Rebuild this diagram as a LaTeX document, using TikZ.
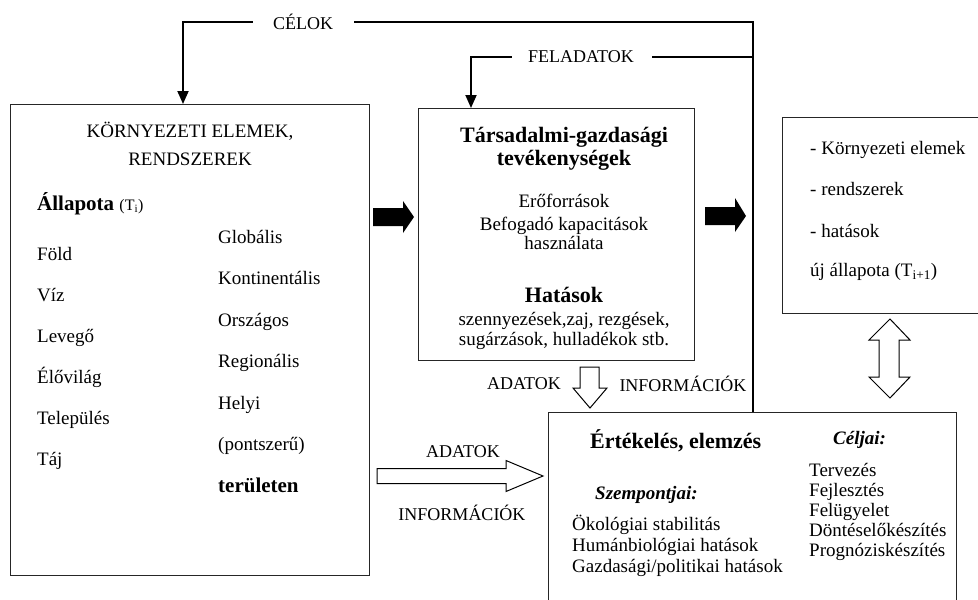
\documentclass[tikz,border=0pt]{standalone}
\usepackage{fontspec}
\setmainfont{Liberation Serif}
\usetikzlibrary{arrows.meta}
\begin{document}
\begin{tikzpicture}[x=1pt,y=-1pt,
  txt/.style={font=\fontsize{19}{21}\selectfont,inner sep=0pt},
  lbl/.style={font=\fontsize{18}{20}\selectfont,inner sep=0pt},
  ttl/.style={font=\fontsize{22}{24}\selectfont\bfseries,inner sep=0pt},
  bi/.style={font=\fontsize{19}{21}\selectfont\bfseries\itshape,inner sep=0pt},
  frame/.style={draw=black!85,line width=1.3pt,inner sep=0pt},
  conn/.style={draw=black,line width=1.8pt},
  arr/.style={-{Triangle[width=11pt,length=13pt]}},
  blockarrow/.style={fill=black},
  hollow/.style={draw=black,line width=1pt,fill=white,line join=miter}
]
\useasboundingbox[fill=white] (0,0) rectangle (978,600);

% boxes
\node[frame,anchor=north west,minimum width=359pt,minimum height=471pt] (env) at (10,104) {};
\node[frame,anchor=north west,minimum width=276pt,minimum height=252pt] (soc) at (418,108) {};
\node[frame,anchor=north west,minimum width=220pt,minimum height=196pt] (new) at (782,117) {};
\node[frame,anchor=north west,minimum width=408pt,minimum height=220pt] (eval) at (548,412) {};

% labels on connectors
\node[lbl] (celok) at (303,22) {CÉLOK};
\node[lbl] (fel) at (581,57) {FELADATOK};
\node[lbl] (ad1) at (524,384) {ADATOK};
\node[lbl] (inf1) at (683,384) {INFORMÁCIÓK};
\node[lbl] (ad2) at (463,452) {ADATOK};
\node[lbl] (inf2) at (462,513) {INFORMÁCIÓK};

% connectors
\coordinate (envIn) at (183,104);
\coordinate (socIn) at (471,108);
\coordinate (evalIn) at (753,412);
\coordinate (felJoin) at (753,57);
\draw[conn,arr] ([xshift=-20pt]celok.west) -| (envIn);
\draw[conn] ([xshift=21pt]celok.east) -| (evalIn);
\draw[conn,arr] ([xshift=-16pt]fel.west) -| (socIn);
\draw[conn] ([xshift=18pt]fel.east) -- (felJoin);

% black block arrows
\fill[blockarrow] (373,208) -- (403,208) -- (403,201) -- (414,217) -- (403,233) -- (403,226) -- (373,226) -- cycle;
\fill[blockarrow] (705,207) -- (735,207) -- (735,198) -- (746,216) -- (735,232) -- (735,225) -- (705,225) -- cycle;

% hollow arrows
\draw[hollow] (377,468.5) -- (506,468.5) -- (506,460.5) -- (543,476) -- (506,491.5) -- (506,483.5) -- (377,483.5) -- cycle;
\draw[hollow] (580,367) -- (599,367) -- (599,388) -- (607,388) -- (590,408) -- (573,388) -- (580,388) -- cycle;
\draw[hollow] (879,340) -- (869,340) -- (890,319) -- (910,340) -- (899,340) -- (899,377) -- (910,377) -- (890,398) -- (869,377) -- (879,377) -- cycle;

% left box text
\node[txt,anchor=mid] (e1) at (190,135) {KÖRNYEZETI ELEMEK,};
\node[txt,anchor=mid] (e2) at (190,163) {RENDSZEREK};
\node[inner sep=0pt,anchor=mid west] (e3) at (37,208) {\fontsize{21}{24}\selectfont\bfseries Állapota \mdseries\fontsize{16}{18}\selectfont(T\textsubscript{i})};
\node[txt,anchor=mid west] (l1) at (37,258) {Föld};
\node[txt,anchor=mid west] (l2) at (37,299) {Víz};
\node[txt,anchor=mid west] (l3) at (37,340) {Levegő};
\node[txt,anchor=mid west] (l4) at (37,381) {Élővilág};
\node[txt,anchor=mid west] (l5) at (37,422) {Település};
\node[txt,anchor=mid west] (l6) at (37,463) {Táj};
\node[txt,anchor=mid west] (r1) at (218,241) {Globális};
\node[txt,anchor=mid west] (r2) at (218,282.5) {Kontinentális};
\node[txt,anchor=mid west] (r3) at (218,324) {Országos};
\node[txt,anchor=mid west] (r4) at (218,365.5) {Regionális};
\node[txt,anchor=mid west] (r5) at (218,407) {Helyi};
\node[txt,anchor=mid west] (r6) at (218,448.5) {(pontszerű)};
\node[inner sep=0pt,anchor=mid west,font=\fontsize{21}{24}\selectfont\bfseries] (r7) at (218,490) {területen};

% middle box text
\node[ttl,anchor=mid] (s1) at (564,140) {Társadalmi-gazdasági};
\node[ttl,anchor=mid] (s2) at (564,163) {tevékenységek};
\node[txt,anchor=mid] (s3) at (564,205) {Erőforrások};
\node[txt,anchor=mid] (s4) at (564,228) {Befogadó kapacitások};
\node[txt,anchor=mid] (s5) at (564,247) {használata};
\node[ttl,anchor=mid] (s6) at (564,300) {Hatások};
\node[txt,anchor=mid] (s7) at (564,323) {szennyezések,zaj, rezgések,};
\node[txt,anchor=mid] (s8) at (564,343) {sugárzások, hulladékok stb.};

% right box text
\node[txt,anchor=mid west] (n1) at (810,152) {- Környezeti elemek};
\node[txt,anchor=mid west] (n2) at (810,193) {- rendszerek};
\node[txt,anchor=mid west] (n3) at (810,235) {- hatások};
\node[txt,anchor=mid west] (n4) at (810,274) {új állapota (T\textsubscript{i+1})};

% bottom box text
\node[ttl,anchor=mid west] (v1) at (590,446) {Értékelés, elemzés};
\node[bi,anchor=mid west] (v2) at (595,497) {Szempontjai:};
\node[txt,anchor=mid west] (v3) at (572,528) {Ökológiai stabilitás};
\node[txt,anchor=mid west] (v4) at (572,549) {Humánbiológiai hatások};
\node[txt,anchor=mid west] (v5) at (572,570) {Gazdasági/politikai hatások};
\node[bi,anchor=mid west] (c0) at (833,442) {Céljai:};
\node[txt,anchor=mid west] (c1) at (809,474) {Tervezés};
\node[txt,anchor=mid west] (c2) at (809,494) {Fejlesztés};
\node[txt,anchor=mid west] (c3) at (809,514) {Felügyelet};
\node[txt,anchor=mid west] (c4) at (809,534) {Döntéselőkészítés};
\node[txt,anchor=mid west] (c5) at (809,554) {Prognóziskészítés};
\end{tikzpicture}
\end{document}
